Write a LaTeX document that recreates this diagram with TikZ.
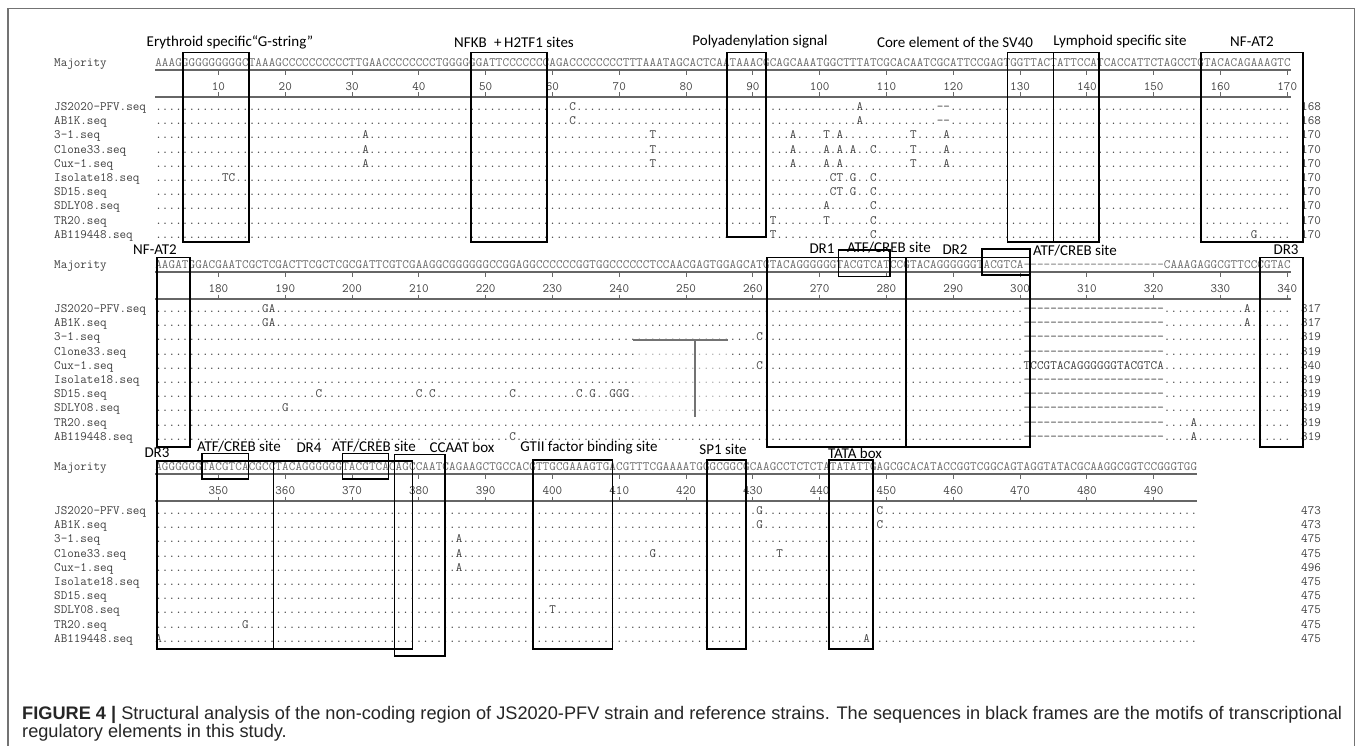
\documentclass[tikz,border=0pt]{standalone}
\usepackage{fontspec}
\usepackage{graphicx}
\newfontfamily\labfont{Carlito}
\newfontfamily\capfont{Liberation Sans}
\newcommand\cbox[1]{\makebox[6.68pt]{#1}}
\ExplSyntaxOn
\cs_new:Npn \reptext #1#2 { \prg_replicate:nn {#1} {#2} }
\tl_new:N \l__rw_base_tl
\tl_new:N \l__rw_out_tl
\tl_new:N \l__rw_key_tl
\tl_new:N \l__rw_val_tl
\int_new:N \l__rw_int
\prop_new:N \l__rw_prop
\cs_generate_variant:Nn \prop_get:NnNTF { NV }
\NewDocumentCommand \mkrow { m m }
  {
    \prop_clear:N \l__rw_prop
    \keyval_parse:nnn { \use_none:n } { \prop_put:Nnn \l__rw_prop } {#2}
    \tl_set:Nx \l__rw_base_tl {#1}
    \tl_clear:N \l__rw_out_tl
    \int_zero:N \l__rw_int
    \tl_map_inline:Nn \l__rw_base_tl
      {
        \int_incr:N \l__rw_int
        \tl_set:Nx \l__rw_key_tl { \int_use:N \l__rw_int }
        \prop_get:NVNTF \l__rw_prop \l__rw_key_tl \l__rw_val_tl
          { \tl_put_right:Nx \l__rw_out_tl { \exp_not:N \cbox { \tl_use:N \l__rw_val_tl } } }
          { \tl_put_right:Nn \l__rw_out_tl { \cbox {##1} } }
      }
    \tl_use:N \l__rw_out_tl
  }
\ExplSyntaxOff
\newcommand\seqfont{\fontsize{12.72}{14}\selectfont\ttfamily}
\definecolor{seqc}{gray}{0.25}
\definecolor{majc}{gray}{0.42}
\newlength\capw
\newcommand\captionone{\textbf{FIGURE 4 |} Structural analysis of the non-coding region of JS2020-PFV strain and reference strains. The sequences in black frames are the motifs of transcriptional}
\newcommand\rulerblock[4]{%
  \draw[rul] (155,{70+#1}) -- ({155+#2*6.68},{70+#1});
  \draw[rul] (155,{97+#1}) -- ({155+#2*6.68},{97+#1});
  \foreach \k in {1,...,#4}{
    \pgfmathsetmacro\tkx{155+(10*\k-0.5)*6.68}
    \pgfmathtruncatemacro\tkl{#3+10*(\k-1)}
    \draw[tk] (\tkx,{70+#1}) -- (\tkx,{75+#1});
    \draw[tk] (\tkx,{92.5+#1}) -- (\tkx,{97+#1});
    \node[seq, anchor=base] at (\tkx,{90.5+#1}) {\tkl};
  }
}
% #1 block, #2 row, #3 base string, #4 variants
\newcommand\srow[4]{\node[nm] at (155,{110.5+202*#1+14.2*#2}) {\mkrow{#3}{#4}};}
\begin{document}
\settowidth\capw{\capfont\fontsize{16}{20}\selectfont\captionone}
\pgfmathsetmacro\capsc{1320/\capw}
\begin{tikzpicture}[x=1pt,y=-1pt,
  seq/.style={font=\seqfont, text=seqc, inner sep=0pt},
  nm/.style={seq, anchor=base west},
  lab/.style={font=\labfont\fontsize{15}{18}\selectfont, inner sep=0pt, text=black},
  motif/.style={draw=black, line width=1.6pt},
  rul/.style={draw=black!60, line width=1.2pt},
  tk/.style={draw=black!60, line width=0.8pt}]
\useasboundingbox (0,0) rectangle (1358,746);
\fill[white] (0,0) rectangle (1358,746);
\draw[black!55, line width=1.3pt] (8,750) -- (8,8.3) -- (1354.7,8.3) -- (1354.7,750);

% ---------------- block 1 ----------------
\node[nm] (maj1) at (54,66.5) {Majority};
\node[nm, text=majc] (seq1) at (155,66.5) {\mkrow{AAAG%
GGGGGGGGGC%
TAAAG%
CCCCCCCCCC%
TTGAA%
CCCCCCCC%
TGGGG%
GGATTCCCCC%
CCAGACCCCCCCCTTTAAATAGCACTCA%
ATAAAC%
GCAGCAAATGGCTTTATCGC%
ACAATCGCATTCCGAG%
TGGTTAC%
TATTCCA%
TCACCATTCTAGCCT%
GTACACAGAAAGTC}{}};
\rulerblock{0}{170}{10}{17}
\foreach \nm/\num [count=\i from 0] in {JS2020-PFV.seq/168,AB1K.seq/168,3-1.seq/170,Clone33.seq/170,Cux-1.seq/170,Isolate18.seq/170,SD15.seq/170,SDLY08.seq/170,TR20.seq/170,AB119448.seq/170}{
  \node[nm] at (54,{110.5+14.2*\i}) {\nm};
  \node[nm] at (1301,{110.5+14.2*\i}) {\num};
}
\def\baseA{\reptext{170}{.}}
\srow{0}{0}{\baseA}{63=C,106=A,118=-,119=-}
\srow{0}{1}{\baseA}{63=C,106=A,118=-,119=-}
\srow{0}{2}{\baseA}{32=A,75=T,96=A,101=T,103=A,114=T,119=A}
\srow{0}{3}{\baseA}{32=A,75=T,96=A,101=A,103=A,105=A,108=C,114=T,119=A}
\srow{0}{4}{\baseA}{32=A,75=T,96=A,101=A,103=A,114=T,119=A}
\srow{0}{5}{\baseA}{11=T,12=C,102=C,103=T,105=G,108=C}
\srow{0}{6}{\baseA}{102=C,103=T,105=G,108=C}
\srow{0}{7}{\baseA}{101=A,108=C}
\srow{0}{8}{\baseA}{93=T,101=T,108=C}
\srow{0}{9}{\baseA}{93=T,108=C,165=G}
\node[lab] (t1) at (230,42) {Erythroid specific“G-string”};
\node[lab] (t2) at (514,42) {NFKB\enspace+\,H2TF1 sites};
\node[lab] (t3) at (760,42) {Polyadenylation signal};
\node[lab] (t4) at (955,42) {Core element of the SV40};
\node[lab] (t5) at (1120,42) {Lymphoid specific site};
\node[lab] (t6) at (1252,42) {NF-AT2};
\draw[motif] (183,52.7) rectangle (249,242);
\draw[motif] (470.7,52.7) rectangle (546.7,242);
\draw[motif] (727,52.7) rectangle (766,237);
\draw[motif] (1007.3,52.7) rectangle (1053.3,242);
\draw[motif] (1053.3,52.7) rectangle (1099,242);
\draw[motif] (1201,52.7) rectangle (1302.7,242);

% ---------------- block 2 ----------------
\node[nm] (maj2) at (54,268.5) {Majority};
\node[nm, text=majc] (seq2) at (155,268.5) {\mkrow{AAGAT%
GGACGAATCGCTCGACTTCGCTCGCGATTCGTCGAAGGCGG%
GGGGCCGGAGGCCCCCCGGTGGCCCCCCTCCAACGAGTGGAGCAT%
GTACAGGGGGG%
TACGTCAT%
CCG%
TACAGGGGGGTACGTCA%
\reptext{21}{-}%
CAAAGAGGCGTTCCCGTAC}{}};
\rulerblock{202}{170}{180}{17}
\foreach \nm/\num [count=\i from 0] in {JS2020-PFV.seq/317,AB1K.seq/317,3-1.seq/319,Clone33.seq/319,Cux-1.seq/340,Isolate18.seq/319,SD15.seq/319,SDLY08.seq/319,TR20.seq/319,AB119448.seq/319}{
  \node[nm] at (54,{312.5+14.2*\i}) {\nm};
  \node[nm] at (1301,{312.5+14.2*\i}) {\num};
}
\def\baseB{\reptext{130}{.}\reptext{21}{-}\reptext{19}{.}}
\srow{1}{0}{\baseB}{17=G,18=A,164=A}
\srow{1}{1}{\baseB}{17=G,18=A,164=A}
\srow{1}{2}{\baseB}{91=C}
\srow{1}{3}{\baseB}{}
\srow{1}{4}{\reptext{130}{.}TCCGTACAGGGGGGTACGTCA\reptext{19}{.}}{91=C}
\srow{1}{5}{\baseB}{}
\srow{1}{6}{\baseB}{25=C,40=C,42=C,54=C,64=C,66=G,69=G,70=G,71=G}
\srow{1}{7}{\baseB}{20=G}
\srow{1}{8}{\baseB}{156=A}
\srow{1}{9}{\baseB}{54=C,156=A}
\fill[white, opacity=0.55] (636,345) rectangle (728,414);
\draw[black!55, line width=1.2pt] (633,340) -- (728,340);
\draw[black!55, line width=1.2pt] (695,340) -- (695,417);
\node[lab] (u1) at (155,250) {NF-AT2};
\node[lab] (u2) at (822,249) {DR1};
\node[lab] (u3) at (889,248) {ATF/CREB site};
\node[lab] (u4) at (955,250) {DR2};
\node[lab] (u5) at (1075,251) {ATF/CREB site};
\node[lab] (u6) at (1286,250) {DR3};
\draw[motif] (156.7,257.7) rectangle (190,446.7);
\draw[motif] (766.7,257.7) rectangle (906,446.7);
\draw[motif] (838.3,250) rectangle (890,276.7);
\draw[motif] (906,257.7) rectangle (1030,446.7);
\draw[motif] (981.7,249) rectangle (1030,275);
\draw[motif] (1260,257.7) rectangle (1302.7,446.7);

% ---------------- block 3 ----------------
\node[nm] (maj3) at (54,470.5) {Majority};
\node[nm, text=majc] (seq3) at (155,470.5) {\mkrow{AGGGGGG%
TACGTCA%
CGCC%
TACAGGGGGG%
TACGTCA%
CAGCCAATC%
AGAAGCTGCCAC%
GTTGCGAAAGTG%
ACGTTTCGAAAATG%
GGCGGC%
GCAAGCCTCTCT%
ATATATT%
GAGCGC%
ACATACCGGTCGGCAGTAGGTATACGCAAGGCGGTCCGGGTGG}{}};
\rulerblock{404}{156}{350}{15}
\foreach \nm/\num [count=\i from 0] in {JS2020-PFV.seq/473,AB1K.seq/473,3-1.seq/475,Clone33.seq/475,Cux-1.seq/496,Isolate18.seq/475,SD15.seq/475,SDLY08.seq/475,TR20.seq/475,AB119448.seq/475}{
  \node[nm] at (54,{514.5+14.2*\i}) {\nm};
  \node[nm] at (1301,{514.5+14.2*\i}) {\num};
}
\def\baseC{\reptext{156}{.}}
\srow{2}{0}{\baseC}{91=G,109=C}
\srow{2}{1}{\baseC}{91=G,109=C}
\srow{2}{2}{\baseC}{46=A}
\srow{2}{3}{\baseC}{46=A,75=G,94=T}
\srow{2}{4}{\baseC}{46=A}
\srow{2}{5}{\baseC}{}
\srow{2}{6}{\baseC}{}
\srow{2}{7}{\baseC}{60=T}
\srow{2}{8}{\baseC}{14=G}
\srow{2}{9}{\baseC}{1=A,107=A}
\node[lab] (v1) at (157,453) {DR3};
\node[lab] (v2) at (239,447) {ATF/CREB site};
\node[lab] (v3) at (309,448) {DR4};
\node[lab] (v4) at (374,447) {ATF/CREB site};
\node[lab] (v5) at (462,447) {CCAAT box};
\node[lab] (v6) at (589,448) {GTII factor binding site};
\node[lab] (v7) at (723,449) {SP1 site};
\node[lab] (v8) at (855,453) {TATA box};
\draw[motif] (156.7,460.7) rectangle (273.3,649);
\draw[motif] (201.7,453.3) rectangle (248.3,479);
\draw[motif] (273.3,460.7) rectangle (412.3,649);
\draw[motif] (342.3,453.3) rectangle (388.3,479);
\draw[motif] (394.3,454.3) rectangle (445,656);
\draw[motif] (532.7,460) rectangle (612.3,649);
\draw[motif] (706.7,460) rectangle (746,649);
\draw[motif] (829,460) rectangle (872.7,649);

% ---------------- caption ----------------
\node[anchor=base west, inner sep=0pt, text=black!85] (cap1) at (22,719) {\scalebox{\capsc}{\capfont\fontsize{16}{20}\selectfont\captionone}};
\node[anchor=base west, inner sep=0pt, text=black!85] (cap2) at (22,737.5) {\scalebox{\capsc}{\capfont\fontsize{16}{20}\selectfont regulatory elements in this study.}};
\end{tikzpicture}
\end{document}
